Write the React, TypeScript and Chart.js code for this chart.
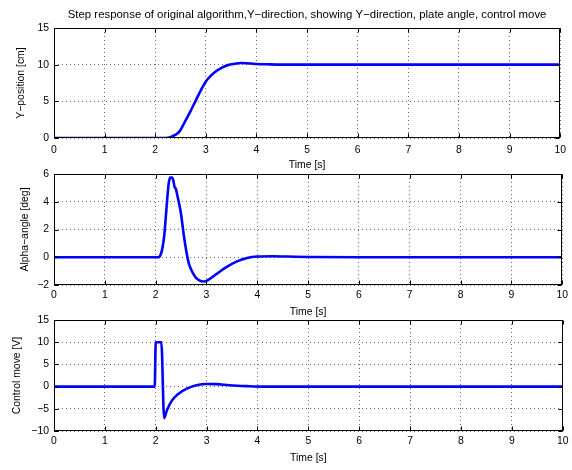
import React, { useEffect, useRef } from "react";
import { Chart, registerables } from "chart.js";

Chart.register(...registerables);

// ---------- data ----------
const TITLE =
  "Step response of original algorithm,Y\u2212direction, showing Y\u2212direction, plate angle, control move";
const X_LABEL = "Time [s]";
const X_TICKS = [0, 1, 2, 3, 4, 5, 6, 7, 8, 9, 10];

const POS_T = [0, 2.2, 2.3, 2.4, 2.48, 2.6, 2.7, 2.8, 2.9, 3.0, 3.1, 3.2, 3.3, 3.4, 3.5, 3.6, 3.7, 3.8, 3.9, 4.0, 4.2, 4.5, 5.0, 10];
const POS_Y = [0, 0, 0.12, 0.45, 0.9, 2.4, 3.7, 5.1, 6.5, 7.7, 8.5, 9.1, 9.52, 9.85, 10.05, 10.17, 10.22, 10.2, 10.15, 10.1, 10.05, 10.0, 10.0, 10.0];
const POS_TICKS = [0, 5, 10, 15];
const POS_LABEL = "Y\u2212position [cm]";

const ALPHA_T = [0, 2.05, 2.1, 2.14, 2.17, 2.2, 2.23, 2.26, 2.29, 2.32, 2.35, 2.37, 2.4, 2.43, 2.46, 2.5, 2.55, 2.6, 2.65, 2.7, 2.78, 2.85, 2.95, 3.05, 3.2, 3.4, 3.6, 3.8, 4.0, 4.3, 4.6, 5.0, 6.0, 10];
const ALPHA_Y = [0, 0, 0.2, 0.8, 1.6, 2.9, 4.3, 5.4, 5.75, 5.75, 5.5, 5.1, 4.9, 4.4, 3.9, 3.1, 1.7, 0.5, -0.4, -0.9, -1.42, -1.65, -1.75, -1.6, -1.2, -0.7, -0.3, -0.05, 0.05, 0.07, 0.05, 0.02, 0, 0];
const ALPHA_TICKS = [-2, 0, 2, 4, 6];
const ALPHA_LABEL = "Alpha\u2212angle [deg]";

const CTRL_T = [0, 1.98, 2.0, 2.11, 2.165, 2.22, 2.32, 2.45, 2.6, 2.8, 3.0, 3.2, 3.45, 3.8, 4.1, 10];
const CTRL_Y = [0, 0, 10, 10, -7.1, -5.3, -3.1, -1.6, -0.5, 0.3, 0.6, 0.55, 0.3, 0.1, 0, 0];
const CTRL_TICKS = [-10, -5, 0, 5, 10, 15];
const CTRL_LABEL = "Control move [V]";

// ---------- layout ----------
const W = 572;
const H = 470;
const FONT = "'Liberation Sans', Arial, Helvetica, sans-serif";
const AX_FONT = 10.4;
const TITLE_FONT = 11.4;

const PANELS = [
  { t: POS_T, y: POS_Y, ticks: POS_TICKS, label: POS_LABEL, padTop: 0, padBottom: 299, title: true, xPad: 6, yTitlePad: 15.3 },
  { t: ALPHA_T, y: ALPHA_Y, ticks: ALPHA_TICKS, label: ALPHA_LABEL, padTop: 174, padBottom: 152, title: false, xPad: 4, yTitlePad: 18.8 },
  { t: CTRL_T, y: CTRL_Y, ticks: CTRL_TICKS, label: CTRL_LABEL, padTop: 320, padBottom: 6, title: false, xPad: 3.5, yTitlePad: 10.5 },
];

const minus = (v: number | string) => String(v).replace("-", "\u2212");

const framePlugin = {
  id: "matlabFrame",
  afterDraw(chart: any) {
    const { ctx, chartArea: a, scales } = chart;
    const L = Math.round(a.left) + 0.5;
    const R = Math.round(a.right) - 0.5;
    const T = Math.round(a.top) + 0.5;
    const B = Math.round(a.bottom) - 0.5;
    ctx.save();
    ctx.strokeStyle = "#000";
    ctx.lineWidth = 1;
    ctx.setLineDash([]);
    ctx.beginPath();
    const tl = 4;
    for (const tk of scales.x.ticks) {
      const px = Math.round(scales.x.getPixelForValue(tk.value)) + 0.5;
      ctx.moveTo(px, B);
      ctx.lineTo(px, B - tl);
      ctx.moveTo(px, T);
      ctx.lineTo(px, T + tl);
    }
    for (const tk of scales.y.ticks) {
      const py = Math.round(scales.y.getPixelForValue(tk.value)) + 0.5;
      ctx.moveTo(L, py);
      ctx.lineTo(L + tl, py);
      ctx.moveTo(R, py);
      ctx.lineTo(R - tl, py);
    }
    ctx.stroke();
    ctx.strokeRect(L, T, R - L, B - T);
    ctx.restore();
  },
};

function makeConfig(p: (typeof PANELS)[number]): any {
  const data = p.t.map((t, i) => ({ x: t, y: p.y[i] }));
  const yMin = p.ticks[0];
  const yMax = p.ticks[p.ticks.length - 1];
  return {
    type: "line",
    data: {
      datasets: [
        {
          data,
          borderColor: "#0000ff",
          borderWidth: 2.6,
          pointRadius: 0,
          fill: false,
          cubicInterpolationMode: "monotone",
        },
      ],
    },
    options: {
      responsive: false,
      animation: false,
      devicePixelRatio: 1,
      layout: { padding: { top: p.padTop, bottom: p.padBottom, left: 0, right: 8 } },
      plugins: {
        legend: { display: false },
        tooltip: { enabled: false },
        title: {
          display: p.title,
          text: TITLE,
          fullSize: false,
          color: "#000",
          font: { family: FONT, size: TITLE_FONT, weight: "normal" },
          padding: { top: 8, bottom: 28 - 8 - TITLE_FONT * 1.2 },
        },
      },
      scales: {
        x: {
          type: "linear",
          min: X_TICKS[0],
          max: X_TICKS[X_TICKS.length - 1],
          afterBuildTicks: (s: any) => {
            s.ticks = X_TICKS.map((v) => ({ value: v }));
          },
          afterFit: (s: any) => {
            s.height = 33;
          },
          ticks: {
            color: "#000",
            font: { family: FONT, size: AX_FONT },
            padding: p.xPad,
            maxRotation: 0,
            autoSkip: false,
            callback: (v: number) => minus(v),
          },
          grid: { color: "rgba(0,0,0,0.6)", lineWidth: 1, drawTicks: false },
          border: { display: false, dash: [1, 3] },
          title: {
            display: true,
            text: X_LABEL,
            color: "#000",
            font: { family: FONT, size: AX_FONT },
            padding: { top: 0, bottom: 0 },
          },
        },
        y: {
          type: "linear",
          min: yMin,
          max: yMax,
          afterBuildTicks: (s: any) => {
            s.ticks = p.ticks.map((v) => ({ value: v }));
          },
          afterFit: (s: any) => {
            s.width = 54;
          },
          ticks: {
            color: "#000",
            font: { family: FONT, size: AX_FONT },
            padding: 5,
            autoSkip: false,
            callback: (v: number) => minus(v),
          },
          grid: { color: "rgba(0,0,0,0.6)", lineWidth: 1, drawTicks: false },
          border: { display: false, dash: [1, 3] },
          title: {
            display: true,
            text: p.label,
            color: "#000",
            font: { family: FONT, size: AX_FONT },
            padding: { top: p.yTitlePad, bottom: 0 },
          },
        },
      },
    },
    plugins: [framePlugin],
  };
}

export default function App() {
  const r0 = useRef<HTMLCanvasElement>(null);
  const r1 = useRef<HTMLCanvasElement>(null);
  const r2 = useRef<HTMLCanvasElement>(null);

  useEffect(() => {
    const refs = [r0, r1, r2];
    const charts = refs.map((r, i) => new Chart(r.current as HTMLCanvasElement, makeConfig(PANELS[i])));
    return () => charts.forEach((c) => c.destroy());
  }, []);

  const cs: React.CSSProperties = { position: "absolute", left: 0, top: 0, width: W, height: H };
  return (
    <div style={{ position: "fixed", left: 0, top: 0, width: W, height: H, background: "#fff" }}>
      <canvas ref={r0} width={W} height={H} style={cs} />
      <canvas ref={r1} width={W} height={H} style={cs} />
      <canvas ref={r2} width={W} height={H} style={cs} />
    </div>
  );
}
